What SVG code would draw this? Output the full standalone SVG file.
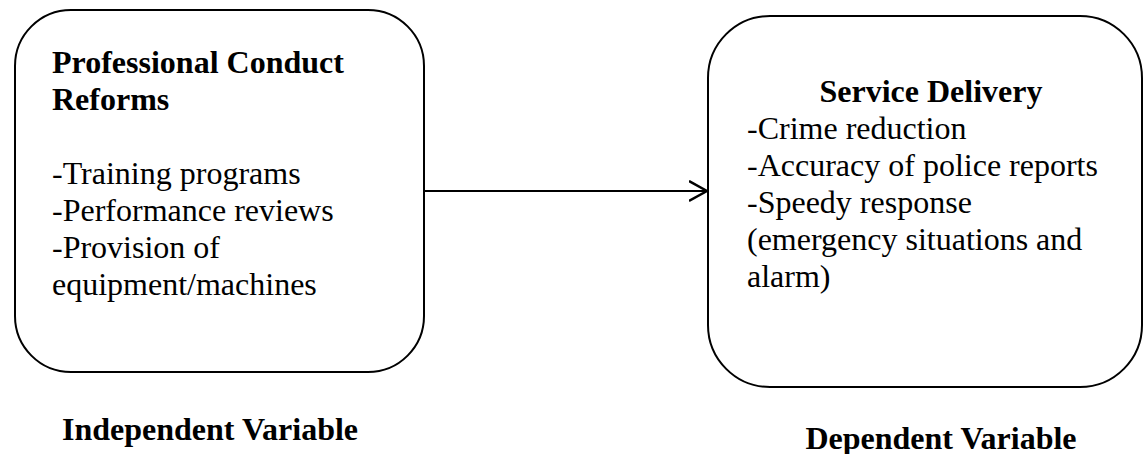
<svg xmlns="http://www.w3.org/2000/svg" width="1144" height="454" viewBox="0 0 1144 454">
<defs>
<style>
.box{fill:#fff;stroke:#000;stroke-width:2}
.t{font-family:"Liberation Serif","Times New Roman",serif;font-size:32px;fill:#000}
.b{font-weight:bold}
.conn{stroke:#000;stroke-width:2;fill:none}
</style>
<marker id="arrow" markerWidth="20" markerHeight="24" refX="18" refY="11" orient="auto" markerUnits="userSpaceOnUse">
<path d="M0,1 L18,11 L0,21" fill="none" stroke="#000" stroke-width="2.5"/>
</marker>
</defs>
<rect width="1144" height="454" fill="#fff"/>
<g id="connectors">
<line class="conn" x1="424" y1="191" x2="707" y2="191" marker-end="url(#arrow)"/>
</g>
<g id="independent">
<rect class="box" x="15" y="10" width="409" height="362" rx="56" ry="56"/>
<text class="t b" x="52" y="73">Professional Conduct</text>
<text class="t b" x="52" y="110">Reforms</text>
<text class="t" x="52" y="184">-Training programs</text>
<text class="t" x="52" y="221">-Performance reviews</text>
<text class="t" x="52" y="258">-Provision of</text>
<text class="t" x="52" y="295">equipment/machines</text>
</g>
<g id="dependent">
<rect class="box" x="708" y="16" width="434" height="371" rx="62" ry="62"/>
<text class="t b" x="931" y="102" text-anchor="middle">Service Delivery</text>
<text class="t" x="747" y="139">-Crime reduction</text>
<text class="t" x="747" y="176">-Accuracy of police reports</text>
<text class="t" x="747" y="213">-Speedy response</text>
<text class="t" x="747" y="250">(emergency situations and</text>
<text class="t" x="747" y="287">alarm)</text>
</g>
<g id="label-independent">
<text class="t b" x="210" y="440" text-anchor="middle">Independent Variable</text>
</g>
<g id="label-dependent">
<text class="t b" x="941" y="449" text-anchor="middle">Dependent Variable</text>
</g>
</svg>
